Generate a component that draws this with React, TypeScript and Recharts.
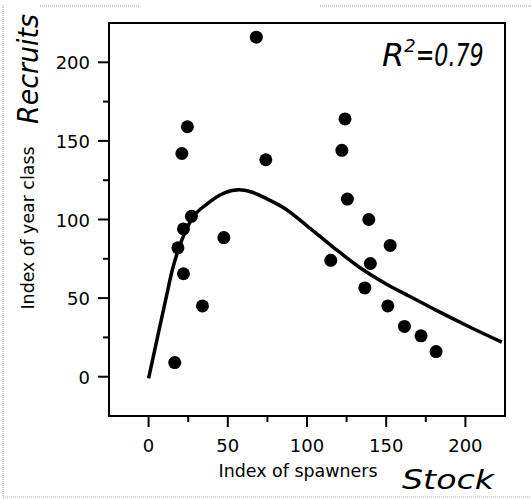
import React from 'react';
import { ComposedChart, Scatter, Line, XAxis, YAxis, ReferenceArea } from 'recharts';

// observed stock / recruit pairs
const spawners = [68, 24.5, 21, 74, 124, 122, 125.5, 27, 22, 18.5, 22, 47.5, 34, 16.5, 115, 139, 152.5, 140, 136.5, 151, 161.5, 172, 181.5];
const yearClass = [216, 159, 142, 138, 164, 144, 113, 102, 94, 82, 65.5, 88.5, 45, 9, 74, 100, 83.5, 72, 56.5, 45, 32, 26, 16];

// fitted curve
const curveStock = [0, 6, 11, 15, 21, 27, 37, 48, 57, 65, 75, 86, 100, 117, 134, 150, 165, 182, 204, 223];
const curveRecruits = [-1, 27, 50, 68, 87, 100, 110, 117, 119, 117.5, 113, 107, 96, 82, 69, 59, 51, 42, 31, 22];

const xTicks = [0, 25, 50, 75, 100, 125, 150, 175, 200];
const yTicks = [0, 25, 50, 75, 100, 125, 150, 175, 200];

const points = spawners.map((x, i) => ({ x, y: yearClass[i] }));
const curve = curveStock.map((x, i) => ({ x, y: curveRecruits[i] }));

const tickFont = '"DejaVu Sans", sans-serif';
const handFont = '"DejaVu Sans", sans-serif';

const XTick = (props: any) => {
  const { x, y, payload } = props;
  const major = payload.value % 50 === 0;
  return (
    <g>
      <line x1={x} y1={y} x2={x} y2={y + (major ? 11 : 6)} stroke="#000" strokeWidth={2} />
      {major && (
        <text x={x} y={y + 36} textAnchor="middle" fontSize={18} fontFamily={tickFont} fill="#000">
          {payload.value}
        </text>
      )}
    </g>
  );
};

const YTick = (props: any) => {
  const { x, y, payload } = props;
  const major = payload.value % 50 === 0;
  return (
    <g>
      <line x1={x} y1={y} x2={x - (major ? 11 : 6)} y2={y} stroke="#000" strokeWidth={2} />
      {major && (
        <text x={x - 19} y={y + 7} textAnchor="end" fontSize={18} fontFamily={tickFont} fill="#000">
          {payload.value}
        </text>
      )}
    </g>
  );
};

const Dot = (props: any) => <circle cx={props.cx} cy={props.cy} r={6.5} fill="#000" />;

export default function App() {
  return (
    <div style={{ position: 'absolute', left: 0, top: 0, width: 531, height: 499, background: '#fff' }}>
      <ComposedChart width={531} height={499} margin={{ top: 23, right: 26, left: 0, bottom: 0 }}>
        <XAxis
          type="number"
          dataKey="x"
          domain={[-25, 225]}
          ticks={xTicks}
          height={83}
          tickSize={0}
          tickMargin={0}
          tickLine={false}
          tick={<XTick />}
          axisLine={{ stroke: '#000', strokeWidth: 2 }}
          allowDataOverflow
        />
        <YAxis
          type="number"
          dataKey="y"
          domain={[-25, 225]}
          ticks={yTicks}
          width={109}
          tickSize={0}
          tickMargin={0}
          tickLine={false}
          tick={<YTick />}
          axisLine={{ stroke: '#000', strokeWidth: 2 }}
          allowDataOverflow
        />
        <ReferenceArea x1={-25} x2={225} y1={-25} y2={225} fill="none" stroke="#000" strokeWidth={2} ifOverflow="visible" />
        <Line data={curve} dataKey="y" type="monotone" stroke="#000" strokeWidth={3.5} dot={false} isAnimationActive={false} />
        <Scatter data={points} dataKey="y" shape={<Dot />} isAnimationActive={false} />
      </ComposedChart>
      <svg width={531} height={499} style={{ position: 'absolute', left: 0, top: 0, pointerEvents: 'none' }}>
        <g stroke="#999" strokeWidth={1} strokeDasharray="1 1">
          <line x1={3} y1={5} x2={3} y2={497} />
          <line x1={3} y1={497} x2={531} y2={497} />
          <line x1={40} y1={6} x2={140} y2={6} />
          <line x1={320} y1={6} x2={531} y2={6} />
        </g>
        <text x={298} y={477} textAnchor="middle" fontSize={17} fontFamily={tickFont} fill="#000" textLength={159} lengthAdjust="spacingAndGlyphs">
          Index of spawners
        </text>
        <text transform="translate(34,228) rotate(-90)" textAnchor="middle" fontSize={17} fontFamily={tickFont} fill="#000" textLength={163} lengthAdjust="spacingAndGlyphs">
          Index of year class
        </text>
        <text transform="translate(38,69) rotate(-90)" textAnchor="middle" fontSize={29} fontFamily={handFont} fontStyle="italic" fill="#000" textLength={110} lengthAdjust="spacingAndGlyphs">
          Recruits
        </text>
        <text x={402} y={489} fontSize={27} fontFamily={handFont} fontStyle="italic" fill="#000" textLength={92} lengthAdjust="spacingAndGlyphs">
          Stock
        </text>
        <text x={382} y={66} fontSize={32} fontFamily={handFont} fontStyle="italic" fill="#000">
          R<tspan fontSize={18} dy={-14}>2</tspan>
          <tspan dy={14} textLength={68} lengthAdjust="spacingAndGlyphs">=0.79</tspan>
        </text>
      </svg>
    </div>
  );
}
